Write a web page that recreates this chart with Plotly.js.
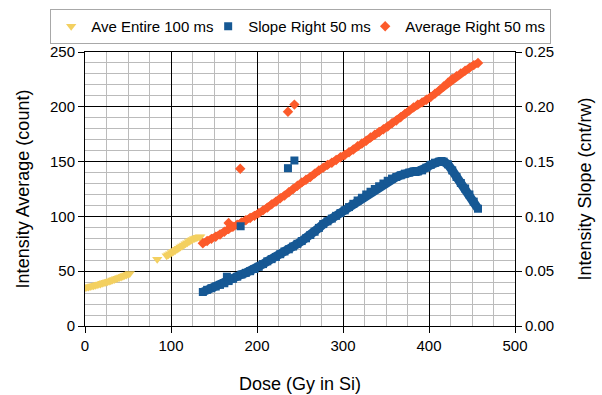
<!DOCTYPE html>
<html>
<head>
<meta charset="utf-8">
<script src="https://cdn.plot.ly/plotly-3.0.1.min.js"></script>
<style>html,body{margin:0;padding:0;background:#fff}#chart{width:602px;height:395px}</style>
</head>
<body>
<div id="chart"></div>
<script>
// Ave Entire 100 ms (left axis, count)
const aveEntireDose = [0,2,4,6,8,10,12,14,16,18,20,22,24,26,28,30,32,34,36,38,40,42,44,46,48,50,52,84,95,97,99,101,103,105,107,109,111,113,115,117,119,121,123,125,127,129,131,133,134];
const aveEntireVal  = [35,35.3,35.6,36,36.4,36.8,37.2,37.6,38,38.4,38.9,39.4,39.9,40.4,40.9,41.4,41.9,42.5,43,43.6,44.2,44.8,45.4,46,46.6,47.3,48,61,64,65,66,67,68,69,70,71,72,73,74,75,76,77,78,79,79.8,80.4,81,81.3,81.5];

// Shared dose grid for the "Right 50 ms" series
const rightDose = [137,142,147,152,157,162,167,172,177,182,187,192,197,202,207,212,217,222,227,232,237,242,247,252,257,262,267,272,277,282,287,292,297,302,307,312,317,322,327,332,337,342,347,352,357,362,367,372,377,382,387,392,397,402,407,412,417,422,427,432,437,442,447,452,457];

// Slope Right 50 ms (right axis, cnt/rw)
const slopeVal = [0.031,0.033,0.0345,0.036,0.0375,0.039,0.041,0.043,0.045,0.047,0.0485,0.050,0.052,0.054,0.0565,0.059,0.061,0.063,0.0655,0.068,0.070,0.0725,0.075,0.0775,0.080,0.083,0.086,0.0895,0.093,0.0955,0.098,0.1005,0.103,0.1055,0.1085,0.1115,0.1145,0.117,0.120,0.1225,0.125,0.1275,0.130,0.1325,0.1345,0.136,0.1375,0.139,0.140,0.141,0.141,0.142,0.1445,0.147,0.149,0.150,0.150,0.1475,0.142,0.136,0.1305,0.1255,0.120,0.1135,0.107];
const slopeOutDose = [165,181,236,243.5];
const slopeOutVal  = [0.045,0.091,0.144,0.151];

// Average Right 50 ms (left axis, count)
const avgRightVal = [75.5,77.5,79.5,81.5,83.5,86,88.5,90.5,92.5,94.5,96.5,98.5,100.5,103,105.5,108,111,113.5,116.5,119,122,125,128,131,133.5,136,139,142,144.5,147,149,151.5,154,156,158.5,161,164,166.5,169,172,174.5,177,179.5,182,185,187.5,190.5,193.5,196.5,199.5,202,204,206.5,209,212,215,218.5,222,225.5,228,230.5,233,235.5,238,240];
const avgOutDose = [167,180.5,236,243.5];
const avgOutVal  = [94,143.5,195.5,202];

const seriesNames = ["Ave Entire 100 ms","Slope Right 50 ms","Average Right 50 ms"];
const colors = ["rgb(243,208,96)","rgb(22,88,148)","rgb(252,90,42)"];

const traces = [
  {x: aveEntireDose, y: aveEntireVal, name: seriesNames[0], type: "scatter", mode: "markers",
   marker: {symbol: "triangle-down", size: 9, color: colors[0], line: {width: 0}}, yaxis: "y",
   legendrank: 1, legendwidth: 112},
  // continuous band under the markers (same data, no legend entry)
  {x: rightDose, y: avgRightVal, name: seriesNames[2], type: "scatter", mode: "lines", showlegend: false,
   line: {color: colors[2], width: 7}, yaxis: "y"},
  {x: rightDose.concat(avgOutDose), y: avgRightVal.concat(avgOutVal), name: seriesNames[2], type: "scatter", mode: "markers",
   marker: {symbol: "diamond", size: 8, color: colors[2], line: {width: 0}}, yaxis: "y", legendrank: 3, legendwidth: 140},
  {x: rightDose, y: slopeVal, name: seriesNames[1], type: "scatter", mode: "lines", showlegend: false,
   line: {color: colors[1], width: 9}, yaxis: "y2"},
  {x: rightDose.concat(slopeOutDose), y: slopeVal.concat(slopeOutVal), name: seriesNames[1], type: "scatter", mode: "markers",
   marker: {symbol: "square", size: 8, color: colors[1], line: {width: 0}}, yaxis: "y2", legendrank: 2, legendwidth: 112}
];

const fontFamily = "Liberation Sans, Arial, Helvetica, sans-serif";

const layout = {
  width: 602, height: 395,
  margin: {l: 85, r: 87, t: 52, b: 69, autoexpand: false},
  paper_bgcolor: "#fff", plot_bgcolor: "#fff",
  font: {family: fontFamily, size: 15, color: "#000"},
  showlegend: true,
  legend: {orientation: "h", x: -0.081, xanchor: "left", y: 1.157, yanchor: "top",
           bordercolor: "#a8a8a8", borderwidth: 1, bgcolor: "#fff", font: {size: 15, color: "#000"},
           itemwidth: 30, traceorder: "normal"},
  xaxis: {range: [0, 500], dtick: 100, tick0: 0, showgrid: true, gridcolor: "#000", gridwidth: 1,
          minor: {dtick: 25, showgrid: true, gridcolor: "#bbb", gridwidth: 1},
          zeroline: false, showline: true, linecolor: "#000", linewidth: 1, mirror: true,
          ticks: "outside", ticklen: 6, tickcolor: "#000", tickfont: {size: 15},
          title: {text: "Dose (Gy in Si)", font: {size: 18, color: "#000"}, standoff: 24}},
  yaxis: {range: [0, 250], dtick: 50, tick0: 0, showgrid: true, gridcolor: "#000", gridwidth: 1,
          minor: {dtick: 10, showgrid: true, gridcolor: "#bbb", gridwidth: 1},
          zeroline: false, showline: true, linecolor: "#000", linewidth: 1, mirror: true,
          ticks: "outside", ticklen: 6, tickcolor: "#000", tickfont: {size: 15},
          title: {text: "Intensity Average (count)", font: {size: 18, color: "#000"}, standoff: 15}},
  yaxis2: {range: [0, 0.25], dtick: 0.05, tick0: 0, tickformat: ".2f", overlaying: "y", side: "right",
           showgrid: false, zeroline: false, showline: true, linecolor: "#000",
           ticks: "outside", ticklen: 6, tickcolor: "#000", tickfont: {size: 15},
           title: {text: "Intensity Slope (cnt/rw)", font: {size: 18, color: "#000"}, standoff: 25}}
};

Plotly.newPlot("chart", traces, layout, {displayModeBar: false, staticPlot: true});
</script>
</body>
</html>
